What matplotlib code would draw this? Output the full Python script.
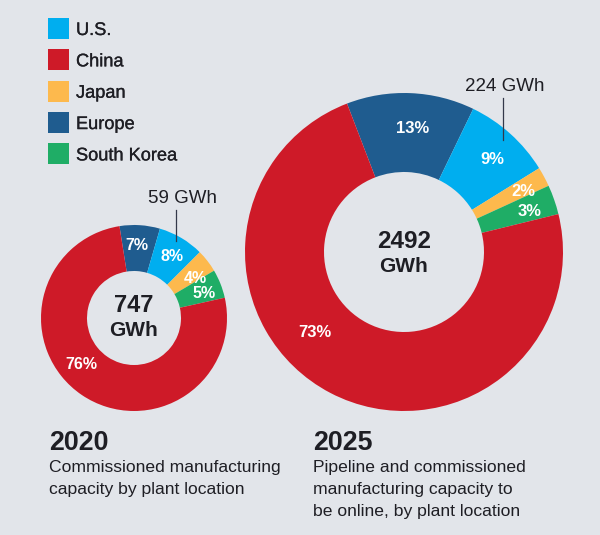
import matplotlib
matplotlib.use("Agg")
import matplotlib.pyplot as plt
from matplotlib.patches import Rectangle
import matplotlib.patheffects as pe

plt.rcParams['font.family'] = ['Liberation Sans', 'DejaVu Sans']

# slices in drawing order, clockwise from Europe
regions = ["Europe", "U.S.", "Japan", "South Korea", "China"]
shares_2020 = [7, 8, 4, 5, 76]
shares_2025 = [13, 9, 2, 3, 73]
legend_order = ["U.S.", "China", "Japan", "Europe", "South Korea"]
colors = {"U.S.": "#00AEEF", "China": "#CE1A28", "Japan": "#FDB94D",
          "Europe": "#1F5C8F", "South Korea": "#1FAD66"}
bg = "#E2E5EA"
ink = "#1E1E24"
H = 535


def label(ax, x, y, s, size, bold=False, ha="left", color=ink):
    # y is the baseline in pixels from the top
    return ax.text(x, H - y, s, color=color, fontsize=size, ha=ha, va="baseline",
                   fontweight="bold" if bold else "normal")


def donut(ax, shares, cx, cy, r, hole, start, label_pos, size):
    ax.pie(shares, colors=[colors[n] for n in regions], center=(cx, H - cy), radius=r,
           startangle=start, counterclock=False,
           wedgeprops={"width": r - hole, "linewidth": 0})
    for s, (x, y) in zip(shares, label_pos):
        label(ax, x, y, f"{s}%", size, True, "center", "white")


fig = plt.figure(figsize=(6, 5.35), dpi=100, facecolor=bg)
ax = fig.add_axes([0, 0, 1, 1])

donut(ax, shares_2020, 134, 318, 93, 47, 99,
      [(137, 250), (172, 261), (195, 283), (204, 298), (81, 369)], 11.5)
donut(ax, shares_2025, 404, 252, 159, 80, 111,
      [(413, 133), (492, 164), (523, 196), (530, 216), (315, 337)], 12)

ax.set_xlim(0, 600)
ax.set_ylim(0, H)
ax.set_aspect("equal")
ax.axis("off")

# legend
for i, name in enumerate(legend_order):
    y = 18 + i * 31.35
    ax.add_patch(Rectangle((48, H - y - 21), 21, 21, facecolor=colors[name], edgecolor="none"))
    t = label(ax, 76, y + 17, name, 13.1)
    t.set_path_effects([pe.withStroke(linewidth=0.2, foreground=ink)])

# centre totals
label(ax, 134, 312, "747", 17, True, "center")
label(ax, 134, 336, "GWh", 15, True, "center")
label(ax, 404, 248, "2492", 17.5, True, "center")
label(ax, 404, 272, "GWh", 15, True, "center")

# U.S. callouts
label(ax, 182, 203, "59 GWh", 13.5, ha="center")
ax.plot([175.5, 175.5], [H - 210, H - 241], color="#33384A", lw=0.9)
label(ax, 505, 91, "224 GWh", 13.5, ha="center")
ax.plot([503, 503], [H - 98, H - 140], color="#33384A", lw=0.9)

# captions
label(ax, 49, 450, "2020", 19.3, True)
label(ax, 49, 472, "Commissioned manufacturing", 12.6)
label(ax, 49, 494, "capacity by plant location", 12.6)
label(ax, 313, 450, "2025", 19.3, True)
label(ax, 313, 472, "Pipeline and commissioned", 12.6)
label(ax, 313, 494, "manufacturing capacity to", 12.6)
label(ax, 313, 516, "be online, by plant location", 12.6)

fig.savefig("out.png", dpi=100, facecolor=bg)
